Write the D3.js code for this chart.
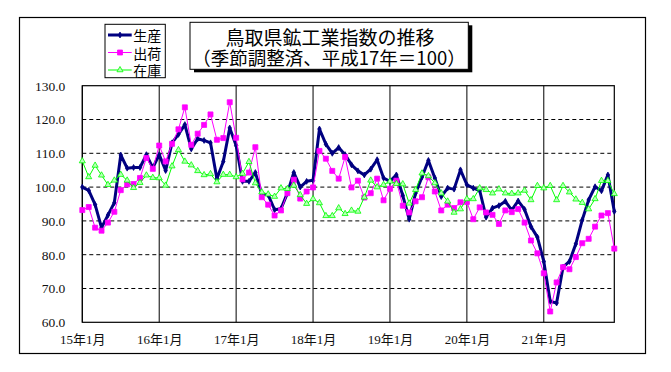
<!DOCTYPE html>
<html lang="ja">
<head>
<meta charset="utf-8">
<script src="https://cdn.jsdelivr.net/npm/d3@7"></script>
<style>
  body { margin: 0; background: #fff; }
  svg { display: block; }
</style>
</head>
<body>
<div id="chart"></div>
<script>
// Categories: monthly, 15年1月 .. 21年12月
const years = [15, 16, 17, 18, 19, 20, 21];
const categories = years.flatMap(yr => d3.range(1, 13).map(m => `${yr}年${m}月`));
const xTickLabels = years.map(yr => `${yr}年1月`);
const yTicks = [60, 70, 80, 90, 100, 110, 120, 130];

// 生産
const production = [
  100.0, 99.0, 94.8, 88.0, 91.7, 95.4, 109.5, 105.6, 105.8, 105.8, 109.6, 105.7,
  109.6, 104.9, 113.1, 115.6, 118.5, 111.3, 114.3, 113.8, 113.1, 102.5, 107.6, 117.5,
  112.3, 101.7, 101.7, 104.3, 97.9, 97.7, 93.3, 93.6, 98.2, 104.3, 100.0, 101.7,
  102.0, 117.2, 112.7, 110.0, 111.7, 109.6, 106.6, 104.8, 103.6, 105.3, 108.1, 102.7,
  101.7, 103.6, 97.5, 90.5, 98.2, 103.0, 107.9, 102.7, 97.2, 99.7, 99.4, 105.1,
  100.7, 99.7, 99.0, 91.1, 93.8, 94.5, 95.8, 93.2, 95.9, 93.4, 88.3, 85.2,
  78.0, 66.2, 65.7, 76.3, 78.0, 83.2, 90.3, 96.2, 100.1, 98.9, 103.6, 92.8
];

// 出荷
const shipments = [
  93.2, 94.1, 88.0, 87.1, 89.5, 92.7, 99.1, 100.8, 100.9, 102.7, 108.6, 105.4,
  112.3, 107.6, 112.8, 117.1, 123.6, 112.5, 115.8, 118.4, 121.5, 114.0, 114.5, 125.1,
  114.6, 102.3, 104.3, 111.8, 97.0, 94.8, 91.6, 93.1, 98.2, 102.2, 96.6, 98.7,
  99.9, 110.7, 108.4, 104.8, 102.5, 108.9, 99.9, 101.9, 96.9, 98.2, 102.5, 96.1,
  99.5, 101.9, 94.5, 92.5, 95.8, 97.0, 102.9, 98.7, 93.1, 94.8, 93.8, 95.5,
  95.6, 90.5, 94.0, 92.5, 91.8, 89.1, 93.1, 92.6, 93.5, 89.5, 84.2, 80.4,
  74.5, 63.2, 71.8, 76.3, 75.7, 79.3, 83.4, 84.7, 88.3, 91.6, 92.3, 81.8
];

// 在庫
const inventory = [
  107.7, 103.0, 106.4, 103.5, 100.7, 102.0, 103.7, 102.0, 99.8, 101.3, 103.5, 102.8,
  102.7, 100.5, 106.2, 111.0, 107.6, 106.5, 104.8, 103.6, 103.9, 101.5, 103.7, 103.7,
  103.0, 104.0, 107.5, 101.2, 98.5, 97.9, 97.2, 99.7, 99.5, 100.5, 97.7, 95.1,
  96.5, 95.3, 91.5, 91.5, 93.8, 92.1, 93.1, 92.8, 97.0, 102.0, 100.0, 100.7,
  101.7, 101.0, 100.9, 95.2, 99.2, 104.1, 103.3, 101.2, 98.2, 95.8, 92.5, 93.5,
  96.5, 96.5, 99.7, 99.2, 98.2, 99.4, 98.2, 98.1, 98.2, 99.0, 96.2, 100.4,
  99.7, 100.4, 96.2, 100.4, 98.5, 96.4, 95.4, 93.5, 96.5, 101.9, 101.9, 98.0
];

const width = 671, height = 372;
const plot = { left: 82.3, right: 614.3, top: 85.7, bottom: 322.3 };
const jpFont = "'Noto Sans CJK JP', 'Noto Sans', sans-serif";
const numFont = "'Liberation Serif', 'DejaVu Serif', 'Noto Sans CJK JP', serif";

let svg = d3.select("#chart")
            .append("svg")
            .attr("width", width)
            .attr("height", height);

// outer frame
svg.append("rect")
   .attr("x", 19.5).attr("y", 17.5)
   .attr("width", 626).attr("height", 336)
   .attr("fill", "#fff")
   .attr("stroke", "#000")
   .attr("stroke-width", 1.2);

// scales
let x = d3.scalePoint()
          .domain(categories)
          .range([plot.left, plot.right]);

let y = d3.scaleLinear()
          .domain([60, 130])
          .range([plot.bottom, plot.top]);

// dashed horizontal grid
svg.append("g")
   .selectAll("line")
   .data(yTicks.slice(1, -1))
   .enter()
   .append("line")
   .attr("x1", plot.left).attr("x2", plot.right)
   .attr("y1", d => y(d)).attr("y2", d => y(d))
   .attr("stroke", "#000")
   .attr("stroke-width", 1)
   .attr("stroke-dasharray", "4,3");

// vertical year lines
svg.append("g")
   .selectAll("line")
   .data(xTickLabels)
   .enter()
   .append("line")
   .attr("x1", d => x(d)).attr("x2", d => x(d))
   .attr("y1", plot.top).attr("y2", plot.bottom)
   .attr("stroke", "#000")
   .attr("stroke-width", 1);

// plot border
svg.append("rect")
   .attr("x", plot.left).attr("y", plot.top)
   .attr("width", plot.right - plot.left)
   .attr("height", plot.bottom - plot.top)
   .attr("fill", "none")
   .attr("stroke", "#000")
   .attr("stroke-width", 1.2);

// Y axis labels
let yAxis = svg.append("g")
   .attr("transform", `translate(${plot.left},0)`)
   .call(d3.axisLeft(y).tickValues(yTicks).tickFormat(d3.format(".1f")).tickSize(0).tickPadding(17));
yAxis.select(".domain").remove();
yAxis.selectAll("text")
     .style("font-family", numFont)
     .style("font-size", "13.5px")
     .attr("fill", "#111");

// X axis labels
let xAxis = svg.append("g")
   .attr("transform", `translate(0,${plot.bottom})`)
   .call(d3.axisBottom(x).tickValues(xTickLabels).tickSize(0));
xAxis.select(".domain").remove();
xAxis.selectAll("text")
     .attr("y", 17)
     .attr("dy", "0.35em")
     .style("font-family", numFont)
     .style("font-size", "13px")
     .attr("fill", "#111");

// series
let series = [
  { name: "生産", values: production, color: "#000080", width: 3, symbol: d3.symbolDiamond, size: 10, fill: "#000080" },
  { name: "出荷", values: shipments, color: "#ff00ff", width: 1, symbol: d3.symbolSquare, size: 25, fill: "#ff00ff" },
  { name: "在庫", values: inventory, color: "#00ff00", width: 1, symbol: d3.symbolTriangle, size: 16, fill: "#b8ffb8" }
];

let line = d3.line()
             .x((d, i) => x(categories[i]))
             .y(d => y(d));

series.forEach(s => {
   let g = svg.append("g");
   g.append("path")
    .datum(s.values)
    .attr("fill", "none")
    .attr("stroke", s.color)
    .attr("stroke-width", s.width)
    .attr("stroke-linejoin", "round")
    .attr("d", line);
   g.selectAll("path.mark")
    .data(s.values)
    .enter()
    .append("path")
    .attr("class", "mark")
    .attr("transform", (d, i) => `translate(${x(categories[i])},${y(d)})`)
    .attr("d", d3.symbol(s.symbol, s.size))
    .attr("fill", s.fill)
    .attr("stroke", s.color)
    .attr("stroke-width", 0.8);
});

// legend
let legend = svg.append("g");
legend.append("rect")
      .attr("x", 105).attr("y", 24.3)
      .attr("width", 60.3).attr("height", 53.4)
      .attr("fill", "#fff")
      .attr("stroke", "#000")
      .attr("stroke-width", 1);

series.forEach((s, i) => {
   let ly = 35 + i * 17.5;
   legend.append("line")
         .attr("x1", 108).attr("x2", 131.7)
         .attr("y1", ly).attr("y2", ly)
         .attr("stroke", s.color)
         .attr("stroke-width", s.width);
   legend.append("path")
         .attr("transform", `translate(120,${ly})`)
         .attr("d", d3.symbol(s.symbol, s.size))
         .attr("fill", s.fill)
         .attr("stroke", s.color)
         .attr("stroke-width", 0.8);
   legend.append("text")
         .attr("x", 133.3)
         .attr("y", ly)
         .attr("dominant-baseline", "central")
         .style("font-family", jpFont)
         .style("font-size", "14px")
         .text(s.name);
});

// title box with shadow
svg.append("rect")
   .attr("x", 194).attr("y", 25.3)
   .attr("width", 278.3).attr("height", 47)
   .attr("fill", "#000");
svg.append("rect")
   .attr("x", 190).attr("y", 22.3)
   .attr("width", 278.3).attr("height", 47)
   .attr("fill", "#fff")
   .attr("stroke", "#000")
   .attr("stroke-width", 1);

svg.append("text")
   .attr("x", 330).attr("y", 36.7)
   .attr("text-anchor", "middle")
   .attr("dominant-baseline", "central")
   .style("font-family", jpFont)
   .style("font-size", "19px")
   .text("鳥取県鉱工業指数の推移");

svg.append("text")
   .attr("x", 329).attr("y", 56.7)
   .attr("text-anchor", "middle")
   .attr("dominant-baseline", "central")
   .style("font-family", jpFont)
   .style("font-size", "18.5px")
   .text("（季節調整済、平成17年＝100）");
</script>
</body>
</html>
